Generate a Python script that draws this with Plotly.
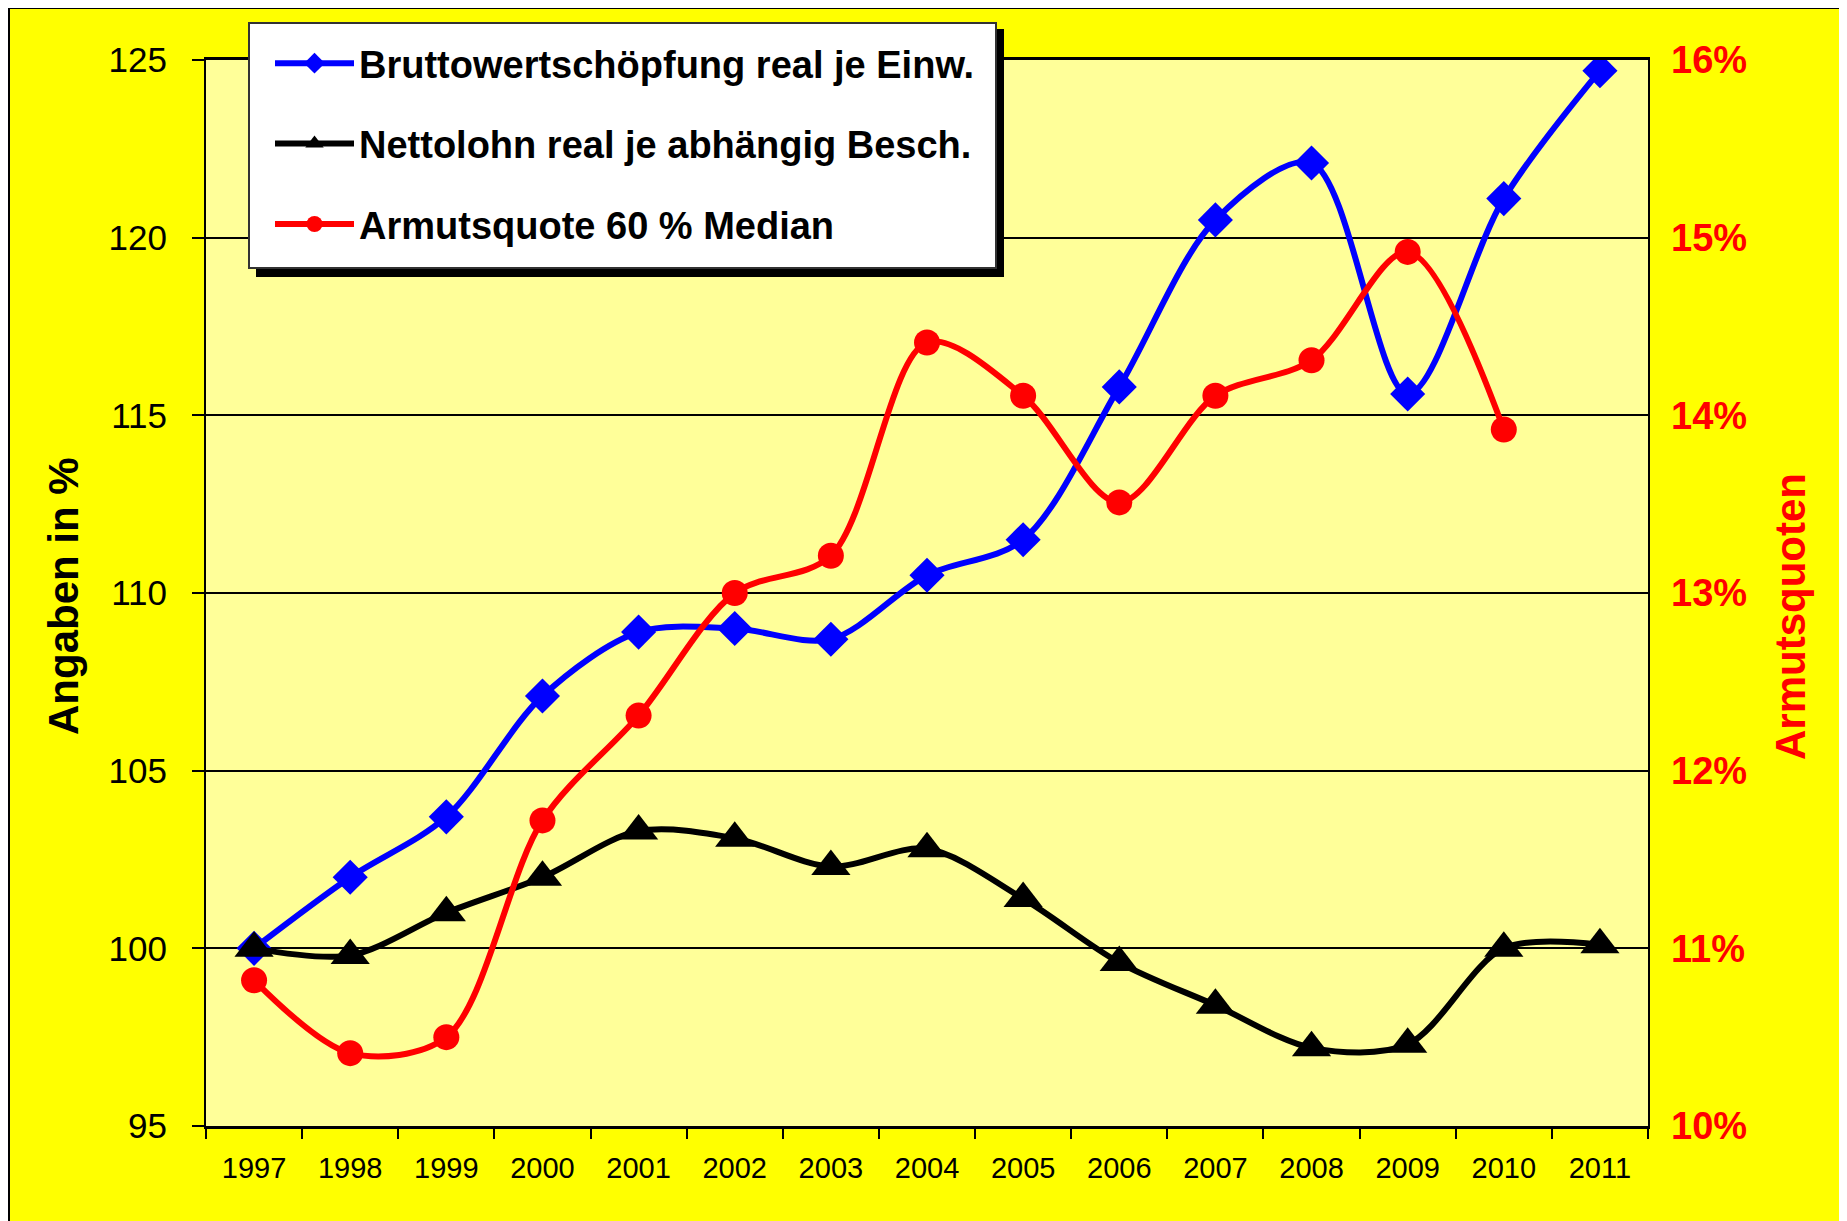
import plotly.graph_objects as go

years = [str(y) for y in range(1997, 2012)]
brutto = [100.0, 102.0, 103.7, 107.1, 108.9, 109.0, 108.7, 110.5, 111.5, 115.8, 120.5, 122.1, 115.6, 121.1, 124.7]
netto = [100.0, 99.8, 101.0, 102.0, 103.3, 103.1, 102.3, 102.8, 101.4, 99.6, 98.4, 97.2, 97.3, 100.0, 100.1]
armut_years = years[:14]
armut = [10.82, 10.41, 10.50, 11.72, 12.31, 13.00, 13.21, 14.41, 14.11, 13.51, 14.11, 14.31, 14.92, 13.92]
pct_vals = [10, 11, 12, 13, 14, 15, 16]
pct_text = ["10%", "11%", "12%", "13%", "14%", "15%", "16%"]

names = ["Bruttowertschöpfung real je Einw.",
         "Nettolohn real je abhängig Besch.",
         "Armutsquote 60 % Median"]

W, H = 1847, 1221
OFF = 8  # page body margin
L, R, T, B = 206 - OFF, 1648 - OFF, 60 - OFF, 1126 - OFF
FONT = "Liberation Sans, Arial, sans-serif"


def px_x(p):
    # p given in screenshot pixels
    return (p - OFF - L) / (R - L)


def px_y(p):
    return (B - (p - OFF)) / (B - T)


fig = go.Figure()
fig.add_trace(go.Scatter(
    x=years, y=brutto, name=names[0], mode="lines+markers", legendgroup="a",
    line=dict(color="#0000FF", width=6, shape="spline", smoothing=0.9),
    marker=dict(symbol="diamond", size=27, color="#0000FF")))
fig.add_trace(go.Scatter(
    x=years, y=netto, name=names[1], mode="lines+markers", legendgroup="b",
    line=dict(color="#000000", width=6, shape="spline", smoothing=0.9),
    marker=dict(symbol="triangle-up", size=34, color="#000000")))
fig.add_trace(go.Scatter(
    x=armut_years, y=armut, name=names[2], mode="lines+markers", legendgroup="c",
    yaxis="y2",
    line=dict(color="#FF0000", width=6, shape="spline", smoothing=0.9),
    marker=dict(symbol="circle", size=26, color="#FF0000")))

shapes = [
    # frame lines (left, top) of the yellow chart area
    dict(type="line", xref="paper", yref="paper", x0=px_x(OFF + 1), x1=px_x(OFF + 1), y0=px_y(OFF), y1=px_y(H + 20),
         line=dict(color="black", width=2), layer="above"),
    dict(type="line", xref="paper", yref="paper", x0=px_x(OFF), x1=px_x(W + 20), y0=px_y(OFF), y1=px_y(OFF),
         line=dict(color="black", width=2), layer="above"),
    # legend shadow and box
    dict(type="rect", xref="paper", yref="paper", x0=px_x(256), x1=px_x(1004), y0=px_y(29), y1=px_y(277),
         fillcolor="black", line=dict(width=0), layer="above"),
    dict(type="rect", xref="paper", yref="paper", x0=px_x(249), x1=px_x(996), y0=px_y(23), y1=px_y(268),
         fillcolor="white", line=dict(color="#333333", width=2), layer="above"),
]

annotations = [
    dict(text="<b>Angaben in %</b>", xref="paper", yref="paper", x=px_x(63), y=px_y(596),
         textangle=-90, showarrow=False, font=dict(family=FONT, size=42, color="black"),
         xanchor="center", yanchor="middle"),
    dict(text="<b>Armutsquoten</b>", xref="paper", yref="paper", x=px_x(1790), y=px_y(617),
         textangle=-90, showarrow=False, font=dict(family=FONT, size=42, color="#FF0000"),
         xanchor="center", yanchor="middle"),
]

fig.update_layout(
    width=W, height=H,
    margin=dict(l=L, r=W - R, t=T, b=H - B, autoexpand=False),
    paper_bgcolor="#FFFF00",
    plot_bgcolor="#FFFF99",
    font=dict(family=FONT, color="black"),
    showlegend=True,
    legend=dict(x=px_x(270), y=px_y(32), xanchor="left", yanchor="top",
                bgcolor="rgba(0,0,0,0)", borderwidth=0,
                font=dict(family=FONT, size=38, color="black", weight="bold"),
                itemwidth=79, tracegroupgap=28, traceorder="grouped"),
    shapes=shapes,
    annotations=annotations,
    xaxis=dict(type="category", categoryorder="array", categoryarray=years,
               range=[-0.5, 14.5], tickson="boundaries", ticks="outside", ticklen=10,
               tickwidth=2, tickcolor="black", showgrid=False, zeroline=False,
               showline=True, linecolor="black", linewidth=3, mirror=True,
               tickfont=dict(family=FONT, size=29, color="black"), ticklabelstandoff=14),
    yaxis=dict(range=[95, 125], dtick=5, tick0=95, ticks="outside", ticklen=12, tickwidth=2,
               tickcolor="black", showgrid=True, gridcolor="black", gridwidth=2,
               zeroline=False, showline=True, linecolor="black", linewidth=2, mirror=True,
               tickfont=dict(family=FONT, size=35, color="black"), ticklabelstandoff=18),
    yaxis2=dict(range=[10, 16], overlaying="y", side="right", tickmode="array",
                tickvals=pct_vals, ticktext=pct_text,
                ticks="", showgrid=False, zeroline=False, showline=False,
                tickfont=dict(family=FONT, size=38, color="#FF0000", weight="bold"),
                ticklabelstandoff=22),
)

fig.write_html("out.html")
